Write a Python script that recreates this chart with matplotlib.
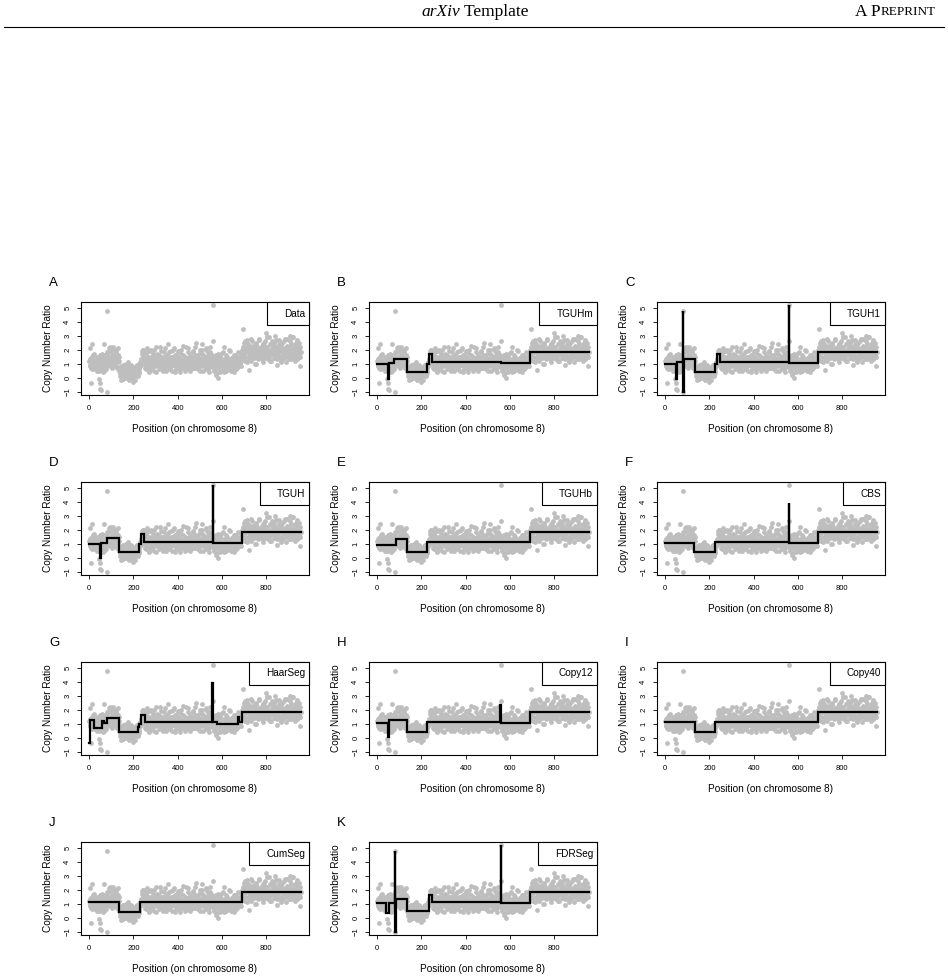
import matplotlib
matplotlib.use("Agg")
import matplotlib.pyplot as plt
import numpy as np
from matplotlib.lines import Line2D
from matplotlib.patches import Rectangle

plt.rcParams["font.family"] = ["Liberation Sans", "DejaVu Sans"]

W, H = 948, 980
grey = "#BEBEBE"

# copy number ratios, probes 1, 4, ..., 955, region by region
reg_start = [1.2, 0.9, 1.4, 0.7, 1.1, 1.6, 0.8, 1.0, 1.3, 0.6, 1.2, 0.9, 1.5, 0.8, 1.1, 0.5]
reg_dip = [1.3, 0.6, 1.0, 1.7, 0.8, 1.2, 0.5, 1.4, 0.9, 1.1, 1.8]
reg_up = [1.6, 1.0, 2.1, 1.3, 0.8, 1.9, 1.2, 1.5, 2.2, 0.9, 1.4, 1.7, 1.1, 2.0, 1.3, 0.7, 1.6, 1.2]
reg_low = [0.5, 0.1, 0.8, 0.3, 0.6, -0.1, 0.4, 0.9, 0.2, 0.5, 0.0, 0.7, 0.3, 1.1, 0.4, -0.2,
           0.6, 0.2, 0.8, 0.3, 0.5, -0.3, 0.4, 0.7, 0.1, 0.5, 0.9, 0.2, 0.6, 0.3, 1.0]
reg_bump = [0.8, 1.2, 1.0, 1.9, 1.4, 2.0, 1.5]
reg_mid = [1.2, 0.7, 1.6, 1.0, 2.1, 0.8, 1.3, 0.5, 1.9, 1.1,
           0.9, 1.5, 0.6, 1.2, 2.0, 0.8, 1.4, 1.0, 0.4, 1.7,
           1.1, 0.9, 1.3, 2.2, 0.7, 1.0, 1.5, 0.6, 1.2, 1.8,
           0.9, 1.4, 0.5, 1.1, 1.6, 2.4, 0.8, 1.3, 1.0, 0.7,
           1.9, 1.2, 0.5, 1.5, 1.0, 2.1, 0.8, 1.3, 0.6, 1.7,
           1.1, 0.9, 1.4, 0.4, 1.2, 2.0, 1.0, 0.7, 1.6, 1.3,
           0.8, 1.1, 2.2, 0.6, 1.4, 0.9, 1.8, 1.2, 0.5, 1.0,
           1.5, 0.8, 1.3, 1.9, 0.7, 1.1, 1.6, 2.5, 0.9, 1.2,
           0.6, 1.4, 1.0, 2.0, 0.8, 1.3, 1.7, 2.4, 0.5, 1.1,
           1.5, 0.9, 1.2, 2.1, 0.7, 1.0, 1.6, 0.4, 1.3, 1.8,
           0.8, 1.1, 1.4]
reg_late = [0.9, 1.3, 0.5, 1.1, 0.7, 1.6, 0.3, 1.0, 1.4, 0.8,
            1.2, 0.4, 1.7, 0.9, 1.1, 0.6, 1.3, 2.2, 0.8, 1.0,
            0.5, 1.5, 0.9, 1.2, 0.7, 1.9, 1.1, 0.6, 1.4, 0.8,
            1.0, 1.3, 0.4, 1.6, 0.9, 1.2, 0.7, 1.1, 1.5, 0.8,
            1.3, 1.0, 1.7, 1.2]
reg_gain = [1.6, 2.2, 1.3, 1.9, 2.6, 1.5, 2.0, 1.1, 1.8, 2.4,
            1.4, 2.1, 1.7, 2.8, 1.2, 1.9, 2.3, 1.6, 2.0, 1.0,
            1.8, 2.5, 1.5, 2.2, 1.3, 1.9, 2.7, 1.6, 2.1, 1.4,
            1.8, 2.4, 1.1, 2.0, 1.7, 2.6, 1.5, 1.9, 2.2, 1.3,
            1.8, 2.9, 1.6, 2.0, 1.2, 2.3, 1.7, 1.9, 2.5, 1.4,
            2.1, 1.8, 0.9, 2.2, 1.6, 2.7, 1.5, 1.9, 2.3, 1.2,
            1.8, 2.0, 1.4, 2.6, 1.7, 2.1, 1.1, 1.9, 2.8, 1.5,
            2.2, 1.6, 2.0, 1.3, 2.4, 1.8, 2.9, 1.5, 2.1, 1.7,
            1.2, 2.3, 1.9, 2.6, 1.4, 2.0, 1.6, 2.2, 1.8]

# probes 2, 5, ..., 953
reg2_start = [0.8, 1.3, 1.0, 0.6, 1.5, 1.1, 0.9, 1.7, 0.7, 1.2, 1.4, 0.5, 1.0, 1.3, 0.8, 1.6]
reg2_dip = [0.9, 1.5, 0.7, 1.2, 0.4, 1.1, 1.6, 0.8, 1.3, 0.6, 1.0]
reg2_up = [1.1, 1.8, 0.9, 1.4, 2.2, 1.2, 0.7, 1.6, 1.3, 2.0, 1.0, 1.5, 1.8, 0.8, 1.4, 2.1, 1.1, 1.5]
reg2_low = [0.3, 0.7, -0.2, 0.5, 0.2, 0.9, 0.4, 0.0, 0.6, 0.3, 1.0, 0.1, 0.5, 0.8, -0.1, 0.4,
            0.6, 0.2, 0.9, 0.0, 0.5, 0.3, 0.7, -0.2, 0.4, 0.8, 0.2, 0.6, 0.1, 0.5, 0.7]
reg2_bump = [1.1, 0.9, 1.3, 1.7, 2.0, 1.6, 1.8]
reg2_mid = [1.0, 1.4, 0.6, 1.8, 0.9, 1.2, 0.4, 1.5, 1.1, 2.0,
            0.7, 1.3, 1.0, 1.7, 0.5, 1.2, 0.9, 2.2, 1.4, 0.8,
            1.1, 1.6, 0.6, 1.3, 1.0, 1.9, 0.8, 1.2, 0.5, 1.5,
            1.1, 2.1, 0.7, 1.4, 0.9, 1.2, 1.8, 0.6, 1.0, 1.5,
            0.8, 1.3, 2.0, 0.9, 1.1, 0.4, 1.6, 1.2, 0.7, 1.4,
            1.9, 1.0, 0.6, 1.3, 0.9, 1.7, 1.1, 2.3, 0.8, 1.2,
            1.5, 0.5, 1.0, 1.4, 0.7, 2.1, 1.2, 0.9, 1.6, 1.1,
            0.6, 1.3, 1.8, 1.0, 0.8, 1.5, 2.2, 0.7, 1.2, 1.0,
            1.4, 0.9, 1.7, 0.5, 1.3, 1.1, 2.0, 0.8, 1.6, 1.2,
            0.9, 1.4, 0.6, 1.9, 1.0, 1.3, 0.7, 1.5, 1.1, 2.2,
            0.8, 1.2, 1.6]
reg2_late = [1.1, 0.6, 1.4, 0.8, 1.2, 0.2, 1.0, 1.7, 0.7, 1.3,
             0.9, 1.5, 0.5, 1.1, 0.8, 1.8, 1.0, 0.4, 1.2, 1.6,
             0.9, 1.3, 0.6, 1.0, 2.0, 0.8, 1.2, 0.5, 1.1, 1.4,
             0.7, 1.0, 1.6, 0.9, 1.3, 0.6, 1.2, 1.0, 1.8, 0.9,
             1.1, 1.4, 0.8, 1.5]
reg2_gain = [2.0, 1.4, 2.5, 1.7, 1.2, 2.2, 1.9, 2.7, 1.5, 2.0,
             1.8, 2.3, 1.3, 2.1, 1.6, 2.6, 1.9, 1.4, 2.2, 1.7,
             2.4, 1.0, 1.9, 2.1, 1.6, 2.8, 1.5, 2.0, 1.8, 2.3,
             1.3, 1.7, 2.5, 1.9, 1.4, 2.2, 1.6, 2.9, 1.8, 2.0,
             1.5, 2.4, 1.2, 1.9, 2.6, 1.7, 2.1, 1.4, 2.3, 1.8,
             1.6, 2.7, 1.3, 2.0, 1.9, 2.4, 1.5, 2.2, 1.1, 1.8,
             2.5, 1.7, 2.0, 1.4, 2.8, 1.9, 1.6, 2.3, 1.8, 2.1,
             1.3, 2.6, 1.7, 2.0, 1.5, 2.9, 1.8, 2.2, 1.4, 2.4,
             1.9, 1.6, 2.7, 1.3, 2.1, 1.8, 2.5, 1.5]

# single probes standing out from the cloud
odd_pos = [3, 6, 14, 44, 47, 51, 54, 67, 80, 82, 558, 559, 583, 697, 720, 800, 840, 905, 954]
odd_val = [2.1, -0.38, 2.4, -0.1, -0.4, -0.8, -0.9, 2.4, 4.8, -1.0, 5.17, 2.6, 0.0,
           3.45, 0.55, 3.2, 3.0, 3.0, 0.8]

ratio1 = np.array(reg_start + reg_dip + reg_up + reg_low + reg_bump + reg_mid + reg_late + reg_gain)
ratio2 = np.array(reg2_start + reg2_dip + reg2_up + reg2_low + reg2_bump + reg2_mid + reg2_late + reg2_gain)
pos1 = np.arange(1, 956, 3)
pos2 = np.arange(2, 956, 3)

# piecewise-constant fits: segment edges and segment levels
tguhm_edges = [1, 47, 52, 78, 135, 226, 236, 248, 559, 690, 955]
tguhm_levels = [1.0, -0.1, 1.05, 1.36, 0.4, 1.0, 1.66, 1.12, 1.05, 1.8]
tguh1_edges = [1, 47, 52, 79, 81, 83, 133, 227, 234, 248, 558, 559, 690, 955]
tguh1_levels = [1.0, -0.1, 1.1, 4.8, -1.0, 1.3, 0.4, 1.0, 1.66, 1.12, 5.17, 1.02, 1.8]
tguh_edges = [1, 48, 52, 81, 133, 227, 234, 248, 558, 559, 690, 955]
tguh_levels = [1.0, -0.05, 1.05, 1.37, 0.42, 1.0, 1.66, 1.12, 5.17, 1.02, 1.8]
tguhb_edges = [1, 83, 135, 227, 689, 955]
tguhb_levels = [0.93, 1.36, 0.4, 1.12, 1.8]
cbs_edges = [1, 132, 227, 558, 560, 690, 955]
cbs_levels = [1.08, 0.4, 1.15, 3.9, 1.02, 1.8]
haar_edges = [1, 2, 23, 56, 65, 82, 134, 222, 226, 233, 250, 557, 560, 577, 672, 675, 690, 955]
haar_levels = [-0.38, 1.28, 0.68, 1.2, 1.07, 1.38, 0.43, 0.75, 0.95, 1.6, 1.15, 3.93, 1.15,
               0.97, 1.5, 1.1, 1.85]
copy12_edges = [1, 47, 55, 133, 226, 555, 560, 689, 955]
copy12_levels = [1.03, 0.05, 1.28, 0.43, 1.15, 2.35, 1.02, 1.82]
copy40_edges = [1, 133, 227, 690, 955]
copy40_levels = [1.1, 0.43, 1.15, 1.82]
cumseg_edges = [1, 133, 230, 690, 955]
cumseg_levels = [1.1, 0.43, 1.15, 1.82]
fdr_edges = [1, 40, 52, 79, 81, 83, 134, 233, 248, 558, 559, 690, 955]
fdr_levels = [1.05, 0.33, 1.08, 4.8, -1.0, 1.3, 0.45, 1.62, 1.12, 5.17, 1.05, 1.82]

letters = ["A", "B", "C", "D", "E", "F", "G", "H", "I", "J", "K"]
names = ["Data", "TGUHm", "TGUH1", "TGUH", "TGUHb", "CBS", "HaarSeg", "Copy12", "Copy40", "CumSeg", "FDRSeg"]
fits = [None, (tguhm_edges, tguhm_levels), (tguh1_edges, tguh1_levels), (tguh_edges, tguh_levels),
        (tguhb_edges, tguhb_levels), (cbs_edges, cbs_levels), (haar_edges, haar_levels),
        (copy12_edges, copy12_levels), (copy40_edges, copy40_levels), (cumseg_edges, cumseg_levels),
        (fdr_edges, fdr_levels)]

col_left = [81, 369, 657]
row_top = [302, 482, 662, 842]
aw, ah = 228, 93

fig = plt.figure(figsize=(W / 100, H / 100), dpi=100)
renderer = fig.canvas.get_renderer()

for k in range(11):
    r, c = divmod(k, 3)
    x0, y0 = col_left[c], row_top[r]
    ax = fig.add_axes([x0 / W, 1 - (y0 + ah) / H, aw / W, ah / H])
    for p, v in ((pos1, ratio1), (pos2, ratio2), (odd_pos, odd_val)):
        ax.scatter(p, v, s=12, color=grey, lw=0, zorder=1)
    if fits[k] is not None:
        e, lv = fits[k]
        xs = np.repeat(e, 2)[1:-1]
        ys = np.repeat(lv, 2)
        ax.plot(xs, ys, color="black", lw=1.6, zorder=3, solid_joinstyle="miter")
    ax.set_xlim(-37, 993)
    ax.set_ylim(-1.25, 5.42)
    ax.set_xticks([0, 200, 400, 600, 800])
    ax.set_yticks([-1, 0, 1, 2, 3, 4, 5])
    ax.tick_params(labelsize=5.5, length=3, width=0.6)
    ax.tick_params(axis="x", pad=4.5)
    ax.tick_params(axis="y", pad=4)
    for lab in ax.get_yticklabels():
        lab.set_rotation(90)
        lab.set_va("center")
    for sp in ax.spines.values():
        sp.set_linewidth(0.8)
    ax.set_ylabel("Copy Number Ratio", fontsize=7.2, labelpad=8)
    ax.set_xlabel("Position (on chromosome 8)", fontsize=7.2, labelpad=8)
    fig.text((x0 - 32) / W, 1 - (y0 - 19) / H, letters[k], fontsize=9.5, ha="left", va="center")

    # legend-style name box in the top right corner
    t = ax.text(1 - 4 / aw, 1 - 11.5 / ah, names[k], transform=ax.transAxes,
                ha="right", va="center", fontsize=7.2, zorder=5)
    bb = t.get_window_extent(renderer)
    bw = (bb.width + 21) / aw
    ax.add_patch(Rectangle((1 - bw, 1 - 23 / ah), bw, 23 / ah, transform=ax.transAxes,
                           facecolor="white", edgecolor="black", lw=0.8, zorder=4, clip_on=False))

# page header
serif = ["Liberation Serif", "DejaVu Serif"]
hy = 1 - 12 / H
ta = fig.text(0, hy, "arXiv", fontsize=12.5, family=serif, style="italic", ha="left", va="center")
tb = fig.text(0, hy, " Template", fontsize=12.5, family=serif, ha="left", va="center")
wa = ta.get_window_extent(renderer).width
wb = tb.get_window_extent(renderer).width
x_start = 475 - (wa + wb) / 2
ta.set_x(x_start / W)
tb.set_x((x_start + wa) / W)
t2 = fig.text(936 / W, hy, "REPRINT", fontsize=9.5, family=serif, ha="right", va="center")
bb2 = t2.get_window_extent(renderer)
fig.text(bb2.x0 / W, hy, "A P", fontsize=12.5, family=serif, ha="right", va="center")
fig.add_artist(Line2D([4 / W, 944 / W], [1 - 27 / H, 1 - 27 / H], color="black", lw=0.8))

fig.savefig("out.png", dpi=100)
